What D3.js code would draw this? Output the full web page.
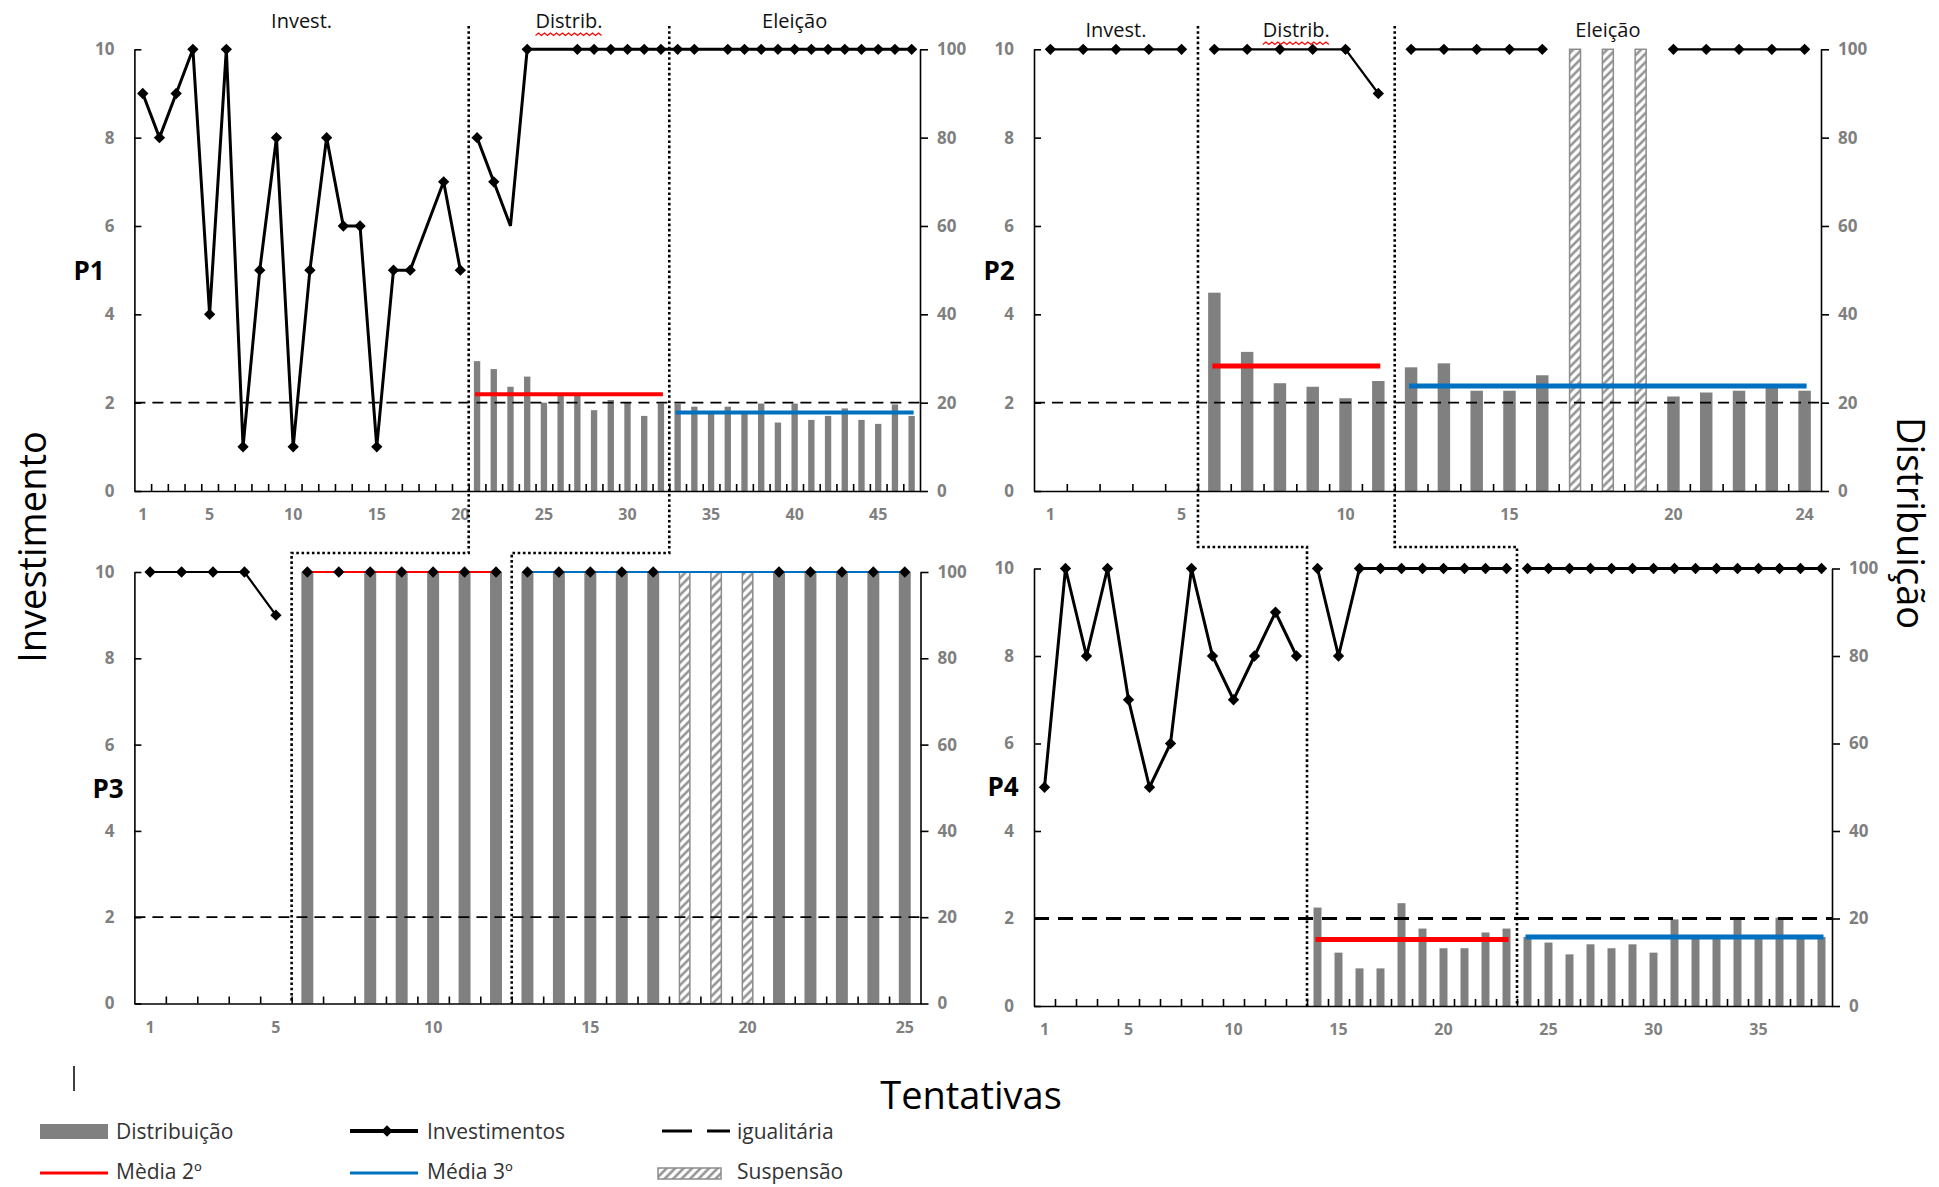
<!DOCTYPE html>
<html>
<head>
<meta charset="utf-8">
<script src="https://d3js.org/d3.v7.min.js"></script>
<style>
  body { margin: 0; background: #fff; }
  text { font-family: "Open Sans", sans-serif; }
</style>
</head>
<body>
<div id="grafico"></div>
<script>
    // nomes das fases e linha igualitária (eixo da direita)
    var fases = ["Invest.", "Distrib.", "Eleição"];
    var igualitaria = 20;

    // ---- P1 ----
    var p1Tentativas = 47;
    var p1Ticks = [1, 5, 10, 15, 20, 25, 30, 35, 40, 45];
    var p1Fases = [20, 32]; // última tentativa de Invest. e de Distrib.
    var p1InvestA = [9, 8, 9, 10, 4, 10, 1, 5, 8, 1, 5, 8, 6, 6, 1, 5, 5, 6, 7, 5]; // 1-20
    var p1InvestB = [8, 7, 6, 10, 10, 10, 10, 10, 10, 10, 10, 10,
                     10, 10, 10, 10, 10, 10, 10, 10, 10, 10, 10, 10, 10, 10, 10]; // 21-47
    var p1SemMarcador = [18, 23, 25, 26, 35];
    var p1Distrib = [29.4, 27.6, 23.6, 25.9, 20.0, 21.7, 21.9, 18.3, 20.6, 20.0, 17.0, 19.8,
                     19.7, 19.1, 17.6, 19.1, 17.9, 19.8, 15.5, 19.8, 16.1, 17.0, 18.7, 16.1, 15.2, 19.6, 17.0]; // 21-47
    var p1Suspensao = [];
    var p1Media2 = 21.9, p1Media3 = 17.8;

    // ---- P2 ----
    var p2Tentativas = 24;
    var p2Ticks = [1, 5, 10, 15, 20, 24];
    var p2Fases = [5, 11];
    var p2InvestA = [10, 10, 10, 10, 10];       // 1-5
    var p2InvestB = [10, 10, 10, 10, 10, 9];    // 6-11
    var p2InvestC = [10, 10, 10, 10, 10];       // 12-16
    var p2InvestD = [10, 10, 10, 10, 10];       // 20-24
    var p2Distrib = [44.9, 31.5, 24.4, 23.6, 21.0, 24.9,
                     28.0, 28.9, 22.7, 22.7, 26.2, null, null, null, 21.4, 22.3, 22.7, 23.6, 22.7]; // 6-24
    var p2Suspensao = [17, 18, 19];
    var p2Media2 = 28.3, p2Media3 = 23.8;

    // ---- P3 ----
    var p3Tentativas = 25;
    var p3Ticks = [1, 5, 10, 15, 20, 25];
    var p3Fases = [5, 12];
    var p3InvestA = [10, 10, 10, 10, 9];                 // 1-5
    var p3InvestB = [10, 10, 10, 10, 10, 10, 10];        // 6-12
    var p3InvestC = [10, 10, 10, 10, 10];                // 13-17
    var p3InvestD = [10, 10, 10, 10, 10];                // 21-25
    var p3Distrib = [100, null, 100, 100, 100, 100, 100,
                     100, 100, 100, 100, 100, null, null, null, 100, 100, 100, 100, 100]; // 6-25
    var p3Suspensao = [18, 19, 20];
    var p3Media2 = 100, p3Media3 = 100;

    // ---- P4 ----
    var p4Tentativas = 38;
    var p4Ticks = [1, 5, 10, 15, 20, 25, 30, 35];
    var p4Fases = [13, 23];
    var p4InvestA = [5, 10, 8, 10, 7, 5, 6, 10, 8, 7, 8, 9, 8];            // 1-13
    var p4InvestB = [10, 8, 10, 10, 10, 10, 10, 10, 10, 10];               // 14-23
    var p4InvestC = [10, 10, 10, 10, 10, 10, 10, 10, 10, 10, 10, 10, 10, 10, 10]; // 24-38
    var p4Distrib = [22.5, 12.2, 8.6, 8.6, 23.5, 17.7, 13.2, 13.2, 16.8, 17.7,
                     15.8, 14.5, 11.8, 14.1, 13.2, 14.1, 12.2, 19.8, 15.8, 15.8, 19.8, 15.8, 20.2, 15.8, 15.8]; // 14-38
    var p4Suspensao = [];
    var p4Media2 = 15.2, p4Media3 = 15.8;

    var paineis = [
        { nome: "P1", n: p1Tentativas, x0: 134.4, x1: 920, y0: 49.3, y1: 491, ticks: p1Ticks, fases: p1Fases,
          linhas: [[1, p1InvestA], [21, p1InvestB]], semMarcador: p1SemMarcador,
          distrib: [21, p1Distrib], susp: p1Suspensao, medias: [p1Media2, p1Media3],
          rotulosY: 28, lw: 3, mw: 4, dw: 1.8, dash: "11,7", lx: 89, ly: 270 },
        { nome: "P2", n: p2Tentativas, x0: 1034, x1: 1821, y0: 49.3, y1: 491, ticks: p2Ticks, fases: p2Fases,
          linhas: [[1, p2InvestA], [6, p2InvestB], [12, p2InvestC], [20, p2InvestD]], semMarcador: [],
          distrib: [6, p2Distrib], susp: p2Suspensao, medias: [p2Media2, p2Media3],
          rotulosY: 37, lw: 2.2, mw: 5, dw: 1.8, dash: "11,7", lx: 999, ly: 270 },
        { nome: "P3", n: p3Tentativas, x0: 134.4, x1: 920.5, y0: 572, y1: 1003.5, ticks: p3Ticks, fases: p3Fases,
          linhas: [[1, p3InvestA], [6, p3InvestB], [13, p3InvestC], [21, p3InvestD]], semMarcador: [],
          distrib: [6, p3Distrib], susp: p3Suspensao, medias: [p3Media2, p3Media3],
          rotulosY: null, lw: 2.2, mw: 2, dw: 1.8, dash: "11,7", lx: 108, ly: 788 },
        { nome: "P4", n: p4Tentativas, x0: 1034, x1: 1832, y0: 568.5, y1: 1006, ticks: p4Ticks, fases: p4Fases,
          linhas: [[1, p4InvestA], [14, p4InvestB], [24, p4InvestC]], semMarcador: [],
          distrib: [14, p4Distrib], susp: p4Suspensao, medias: [p4Media2, p4Media3],
          rotulosY: null, lw: 3, mw: 5, dw: 3.2, dash: "15,9", lx: 1003, ly: 786 }
    ];

    var svg = d3.select("#grafico").append("svg")
        .attr("width", 1939)
        .attr("height", 1187);

    // hachura da suspensão
    var pat = svg.append("defs").append("pattern")
        .attr("id", "hachura")
        .attr("patternUnits", "userSpaceOnUse")
        .attr("width", 6).attr("height", 6)
        .attr("patternTransform", "rotate(45)");
    pat.append("rect").attr("width", 6).attr("height", 6).attr("fill", "#fff");
    pat.append("line").attr("x1", 1.5).attr("y1", 0).attr("x2", 1.5).attr("y2", 6)
        .attr("stroke", "#8c8c8c").attr("stroke-width", 2.4);

    var losango = d3.symbol().type(d3.symbolSquare).size(64);
    var cinza = "#808080";

    paineis.forEach(function(p) {
        var g = svg.append("g");
        var x = d3.scaleBand().domain(d3.range(1, p.n + 1)).range([p.x0, p.x1])
            .paddingInner(0.62).paddingOuter(0.31);
        var xl = d3.scaleLinear().domain([0, p.n]).range([p.x0, p.x1]);
        var yL = d3.scaleLinear().domain([0, 10]).range([p.y1, p.y0]);
        var yR = d3.scaleLinear().domain([0, 100]).range([p.y1, p.y0]);
        var cx = function(t) { return x(t) + x.bandwidth() / 2; };
        p.xl = xl;

        // barras de distribuição
        var barras = p.distrib[1].map(function(v, i) { return { t: p.distrib[0] + i, v: v }; })
            .filter(function(d) { return d.v != null; });
        g.selectAll(".barra").data(barras).enter().append("rect")
            .attr("x", function(d) { return x(d.t); })
            .attr("width", x.bandwidth())
            .attr("y", function(d) { return yR(d.v); })
            .attr("height", function(d) { return yR(0) - yR(d.v); })
            .attr("fill", cinza);

        // suspensão
        g.selectAll(".susp").data(p.susp).enter().append("rect")
            .attr("x", function(d) { return x(d) + 0.75; })
            .attr("width", x.bandwidth() - 1.5)
            .attr("y", yR(100))
            .attr("height", yR(0) - yR(100))
            .attr("fill", "url(#hachura)")
            .attr("stroke", "#8c8c8c")
            .attr("stroke-width", 1.5);

        // igualitária
        g.append("line")
            .attr("x1", p.x0).attr("x2", p.x1)
            .attr("y1", yR(igualitaria)).attr("y2", yR(igualitaria))
            .attr("stroke", "#000").attr("stroke-width", p.dw)
            .attr("stroke-dasharray", p.dash);

        // investimentos
        var linha = d3.line().x(function(d) { return cx(d.t); }).y(function(d) { return yL(d.v); });
        var pontos = [];
        p.linhas.forEach(function(s) {
            var pts = s[1].map(function(v, i) { return { t: s[0] + i, v: v }; });
            pontos = pontos.concat(pts);
            g.append("path").attr("d", linha(pts))
                .attr("fill", "none").attr("stroke", "#000")
                .attr("stroke-width", p.lw).attr("stroke-linejoin", "miter");
        });

        // médias 2º e 3º
        var trechos = [[p.fases[0] + 1, p.fases[1]], [p.fases[1] + 1, p.n]];
        var cores = ["#ff0000", "#0070c0"];
        trechos.forEach(function(tr, k) {
            g.append("line")
                .attr("x1", cx(tr[0]) - 2).attr("x2", cx(tr[1]) + 2)
                .attr("y1", yR(p.medias[k])).attr("y2", yR(p.medias[k]))
                .attr("stroke", cores[k]).attr("stroke-width", p.mw);
        });

        // marcadores
        g.selectAll(".marca").data(pontos.filter(function(d) { return p.semMarcador.indexOf(d.t) < 0; }))
            .enter().append("path")
            .attr("d", losango)
            .attr("transform", function(d) { return "translate(" + cx(d.t) + "," + yL(d.v) + ") rotate(45)"; })
            .attr("fill", "#000");

        // eixos
        var eixoE = g.append("g").attr("transform", "translate(" + p.x0 + ",0)")
            .call(d3.axisLeft(yL).tickValues([0, 2, 4, 6, 8, 10]).tickSizeInner(-7).tickSizeOuter(0).tickPadding(20));
        var eixoD = g.append("g").attr("transform", "translate(" + p.x1 + ",0)")
            .call(d3.axisRight(yR).tickValues([0, 20, 40, 60, 80, 100]).tickSizeInner(8).tickSizeOuter(0).tickPadding(9));
        var eixoX = g.append("g").attr("transform", "translate(0," + p.y1 + ")")
            .call(d3.axisBottom(xl).tickValues(d3.range(1, p.n)).tickSizeInner(-7).tickSizeOuter(0).tickFormat(""));
        var rotX = g.append("g").attr("transform", "translate(0," + p.y1 + ")")
            .call(d3.axisBottom(x).tickValues(p.ticks).tickSize(0).tickPadding(18));
        rotX.select(".domain").remove();

        [eixoE, eixoD, eixoX].forEach(function(e) {
            e.selectAll("path, line").attr("stroke", "#000").attr("stroke-width", 1.6);
        });
        [eixoE, eixoD].forEach(function(e) {
            e.selectAll("text").attr("font-size", 17).attr("font-weight", "bold").attr("fill", "#7f7f7f")
                .attr("font-family", "Open Sans");
        });
        rotX.selectAll("text").attr("font-size", 16).attr("font-weight", "bold").attr("fill", "#7f7f7f")
            .attr("font-family", "Open Sans");

        // rótulo do painel
        g.append("text").attr("x", p.lx).attr("y", p.ly)
            .attr("text-anchor", "middle").attr("dominant-baseline", "central")
            .attr("font-size", 26).attr("font-weight", "bold").text(p.nome);

        // nomes das fases
        if (p.rotulosY != null) {
            var lim = [0, p.fases[0], p.fases[1], p.n];
            fases.forEach(function(nomeFase, k) {
                var t = g.append("text")
                    .attr("x", (xl(lim[k]) + xl(lim[k + 1])) / 2)
                    .attr("y", p.rotulosY)
                    .attr("text-anchor", "middle")
                    .attr("font-size", 20).attr("fill", "#111")
                    .text(nomeFase);
                if (nomeFase === "Distrib.") {
                    var bb = t.node().getBBox();
                    var zz = d3.range(0, Math.floor(bb.width / 3) + 1).map(function(i) {
                        return [bb.x + i * 3, bb.y + bb.height - 1 + (i % 2 ? 0 : 2.5)];
                    });
                    g.append("path").attr("d", d3.line()(zz))
                        .attr("fill", "none").attr("stroke", "#ff0000").attr("stroke-width", 1.2);
                }
            });
        }
    });

    // linhas pontilhadas que ligam as fases dos painéis de cima aos de baixo
    var ligacoes = [[0, 2, 553], [1, 3, 547]];
    ligacoes.forEach(function(c) {
        var a = paineis[c[0]], b = paineis[c[1]];
        a.fases.forEach(function(f, k) {
            var xa = a.xl(f), xb = b.xl(b.fases[k]);
            svg.append("path")
                .attr("d", d3.line()([[xa, 26], [xa, c[2]], [xb, c[2]], [xb, b.y1]]))
                .attr("fill", "none").attr("stroke", "#000")
                .attr("stroke-width", 2.6).attr("stroke-dasharray", "2.6,2.6");
        });
    });

    // títulos dos eixos
    svg.append("text").attr("transform", "translate(31,547) rotate(-90)")
        .attr("text-anchor", "middle").attr("dominant-baseline", "central")
        .attr("font-size", 38).text("Investimento");
    svg.append("text").attr("transform", "translate(1912,523) rotate(90)")
        .attr("text-anchor", "middle").attr("dominant-baseline", "central")
        .attr("font-size", 38).text("Distribuição");
    svg.append("text").attr("x", 971).attr("y", 1094)
        .attr("text-anchor", "middle").attr("dominant-baseline", "central")
        .attr("font-size", 38).text("Tentativas");
    svg.append("line").attr("x1", 74).attr("x2", 74).attr("y1", 1066).attr("y2", 1091)
        .attr("stroke", "#000").attr("stroke-width", 1.5);

    // legenda
    var leg = svg.append("g").attr("font-size", 21).attr("fill", "#333");
    leg.append("rect").attr("x", 40).attr("y", 1124).attr("width", 68).attr("height", 15).attr("fill", cinza);
    leg.append("line").attr("x1", 350).attr("x2", 418).attr("y1", 1131).attr("y2", 1131)
        .attr("stroke", "#000").attr("stroke-width", 4);
    leg.append("path").attr("d", losango).attr("transform", "translate(387,1131) rotate(45)").attr("fill", "#000");
    leg.append("line").attr("x1", 662).attr("x2", 730).attr("y1", 1131).attr("y2", 1131)
        .attr("stroke", "#000").attr("stroke-width", 3).attr("stroke-dasharray", "30,15");
    leg.append("line").attr("x1", 40).attr("x2", 108).attr("y1", 1173).attr("y2", 1173)
        .attr("stroke", "#ff0000").attr("stroke-width", 3);
    leg.append("line").attr("x1", 350).attr("x2", 418).attr("y1", 1173).attr("y2", 1173)
        .attr("stroke", "#0070c0").attr("stroke-width", 3);
    leg.append("rect").attr("x", 658).attr("y", 1168).attr("width", 63).attr("height", 11)
        .attr("fill", "url(#hachura)").attr("stroke", "#8c8c8c").attr("stroke-width", 1.5);

    var legTextos = [["Distribuição", 116, 1131], ["Investimentos", 427, 1131], ["igualitária", 737, 1131],
                     ["Mèdia 2º", 116, 1171], ["Média 3º", 427, 1171], ["Suspensão", 737, 1171]];
    leg.selectAll(".lt").data(legTextos).enter().append("text")
        .attr("x", function(d) { return d[1]; })
        .attr("y", function(d) { return d[2]; })
        .attr("dominant-baseline", "central")
        .text(function(d) { return d[0]; });
</script>
</body>
</html>
